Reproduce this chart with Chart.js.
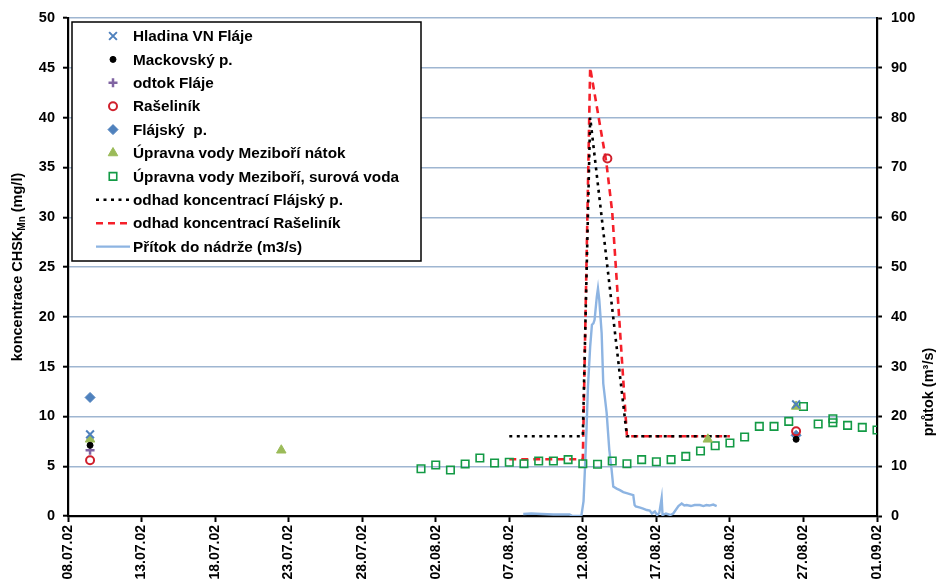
<!DOCTYPE html>
<html><head><meta charset="utf-8">
<script src="https://cdn.jsdelivr.net/npm/chart.js"></script>
<style>html,body{margin:0;padding:0;background:#fff}#wrap{width:940px;height:588px;position:relative}</style>
</head><body><div id="wrap"><canvas id="c" width="940" height="588"></canvas></div>
<script>
// x values = days since 08.07.02
const tickLabels = ['08.07.02','13.07.02','18.07.02','23.07.02','28.07.02','02.08.02','07.08.02','12.08.02','17.08.02','22.08.02','27.08.02','01.09.02'];

const hladinaX = [1.5, 49.5];            const hladinaY = [8.2, 11.2];
const mackovskyX = [1.5, 49.5];          const mackovskyY = [7.1, 7.7];
const odtokX = [1.5];                    const odtokY = [6.6];
const raselinikX = [1.5, 36.67, 49.5];   const raselinikY = [5.6, 35.9, 8.5];
const flajskyX = [1.5, 49.5];            const flajskyY = [11.9, 8.1];
const natokX = [1.5, 14.5, 43.5, 49.5];  const natokY = [7.7, 6.6, 7.7, 11.0];
const surovaX = [24,25,26,27,28,29,30,31,32,33,34,35,36,37,38,39,40,41,42,43,44,45,46,47,48,49,50,51,52,52,53,54,55];
const surovaY = [4.75,5.12,4.62,5.22,5.82,5.32,5.39,5.25,5.52,5.52,5.66,5.25,5.19,5.52,5.25,5.66,5.45,5.66,5.99,6.53,7.06,7.33,7.93,9.0,9.0,9.5,11.0,9.24,9.77,9.37,9.1,8.9,8.63];
const odhadFX = [30, 35, 35.5, 38, 45];  const odhadFY = [8, 8, 40, 8, 8];
const odhadRX = [30, 35, 35.5, 36.6, 37.0, 38, 45];
const odhadRY = [5.7, 5.7, 45, 35.5, 30.5, 8, 8];
const flowX = [30.95,31.5,32.2,33,34.1,34.3,34.9,35.05,35.15,35.25,35.35,35.5,35.62,35.72,35.8,35.95,36.03,36.12,36.28,36.39,36.62,36.8,36.96,37.07,37.3,37.52,37.75,37.98,38.2,38.43,38.52,38.6,38.9,39.1,39.35,39.55,39.7,39.9,40.05,40.2,40.36,40.42,40.65,40.95,41.15,41.5,41.72,41.9,42.06,42.35,42.6,42.96,43.2,43.4,43.6,43.87,44.1];
const flowY = [0.4,0.5,0.4,0.3,0.3,0.0,0.0,3,9.9,17.3,26,34,38.4,38.7,39.4,44,45.7,43.4,36.7,26.6,20.7,13.3,9.2,5.9,5.5,5.2,4.8,4.6,4.4,4.2,2.2,1.9,1.7,1.5,1.2,1.1,0.5,0.9,0.2,0.6,3.6,0.2,0.5,0.2,0.5,2.0,2.5,2.1,2.2,2.0,2.2,2.2,2.0,2.2,2.1,2.3,2.0];

const pts = (xs, ys) => xs.map((x, i) => ({x: x, y: ys[i]}));
const FONT = '"Liberation Sans", Arial, sans-serif';

const datasets = [
  {label:'Hladina VN Fláje', data:pts(hladinaX,hladinaY), pointStyle:'crossRot', pointRadius:5.5, borderColor:'#4f81bd', backgroundColor:'#4f81bd', pointBorderWidth:2, showLine:false, order:0},
  {label:'Mackovský p.', data:pts(mackovskyX,mackovskyY), pointStyle:'circle', pointRadius:3, borderColor:'#000', backgroundColor:'#000', pointBorderWidth:1, showLine:false, order:0},
  {label:'odtok Fláje', data:pts(odtokX,odtokY), pointStyle:'cross', pointRadius:4.5, borderColor:'#8064a2', backgroundColor:'#8064a2', pointBorderWidth:2.5, showLine:false, order:0},
  {label:'Rašeliník', data:pts(raselinikX,raselinikY), pointStyle:'circle', pointRadius:4, borderColor:'#d0202c', backgroundColor:'rgba(255,255,255,0)', pointBorderWidth:2, showLine:false, order:0},
  {label:'Flájský  p.', data:pts(flajskyX,flajskyY), pointStyle:'rectRot', pointRadius:5, borderColor:'#4f81bd', backgroundColor:'#4f81bd', pointBorderWidth:1, showLine:false, order:0},
  {label:'Úpravna vody Meziboří nátok', data:pts(natokX,natokY), pointStyle:'triangle', pointRadius:5.5, borderColor:'#9bbb59', backgroundColor:'#9bbb59', pointBorderWidth:1, showLine:false, order:0},
  {label:'Úpravna vody Meziboří, surová voda', data:pts(surovaX,surovaY), pointStyle:'rect', pointRadius:5.3, borderColor:'#139a45', backgroundColor:'rgba(255,255,255,0)', pointBorderWidth:1.6, showLine:false, order:0},
  {label:'odhad koncentrací Flájský p.', data:pts(odhadFX,odhadFY), showLine:true, pointRadius:0, borderColor:'#000', borderWidth:2.6, borderDash:[3,4.5], fill:false, order:1},
  {label:'odhad koncentrací Rašeliník', data:pts(odhadRX,odhadRY), showLine:true, pointRadius:0, borderColor:'#f5202a', borderWidth:2.6, borderDash:[7,5], fill:false, order:1},
  {label:'Přítok do nádrže (m3/s)', data:pts(flowX,flowY), showLine:true, pointRadius:0, borderColor:'#8db4e2', borderWidth:2.4, fill:false, yAxisID:'y2', order:2}
];

function drawMarker(ctx, ds, x, y) {
  const style = ds.pointStyle;
  ctx.save();
  ctx.strokeStyle = ds.borderColor; ctx.fillStyle = ds.backgroundColor;
  if (ds.showLine) {
    ctx.lineWidth = ds.borderWidth;
    ctx.setLineDash(ds.borderDash || []);
    ctx.beginPath(); ctx.moveTo(x - 17, y); ctx.lineTo(x + 17, y); ctx.stroke();
    ctx.restore(); return;
  }
  const r = ds.pointRadius; ctx.lineWidth = ds.pointBorderWidth;
  ctx.beginPath();
  if (style === 'crossRot') {
    const o = r * Math.SQRT1_2;
    ctx.moveTo(x-o,y-o); ctx.lineTo(x+o,y+o); ctx.moveTo(x-o,y+o); ctx.lineTo(x+o,y-o); ctx.stroke();
  } else if (style === 'cross') {
    ctx.moveTo(x-r,y); ctx.lineTo(x+r,y); ctx.moveTo(x,y-r); ctx.lineTo(x,y+r); ctx.stroke();
  } else if (style === 'circle') {
    ctx.arc(x,y,r,0,Math.PI*2); ctx.fill(); ctx.stroke();
  } else if (style === 'rectRot') {
    ctx.moveTo(x,y-r); ctx.lineTo(x+r,y); ctx.lineTo(x,y+r); ctx.lineTo(x-r,y); ctx.closePath(); ctx.fill(); ctx.stroke();
  } else if (style === 'triangle') {
    ctx.moveTo(x, y - r); ctx.lineTo(x + r*0.866, y + r*0.5); ctx.lineTo(x - r*0.866, y + r*0.5); ctx.closePath(); ctx.fill(); ctx.stroke();
  } else if (style === 'rect') {
    const s = r*Math.SQRT1_2;
    ctx.rect(x-s,y-s,2*s,2*s); ctx.fill(); ctx.stroke();
  }
  ctx.restore();
}

const legendPlugin = {
  id: 'boxLegend',
  afterDatasetsDraw(chart) {
    const ctx = chart.ctx;
    ctx.save();
    const L = 72, T = 22, W = 349, H = 239;
    ctx.fillStyle = '#fff'; ctx.fillRect(L, T, W, H);
    ctx.strokeStyle = '#000'; ctx.lineWidth = 1.5; ctx.strokeRect(L, T, W, H);
    ctx.font = 'bold 15.3px ' + FONT; ctx.textBaseline = 'middle'; ctx.textAlign = 'left';
    chart.data.datasets.forEach((ds, i) => {
      const y = 36 + i * 23.4;
      drawMarker(ctx, ds, 113, y);
      ctx.fillStyle = '#000';
      ctx.fillText(ds.label, 133, y + 1);
    });
    ctx.restore();
  }
};

const titlesPlugin = {
  id: 'axisTitles',
  afterDraw(chart) {
    const ctx = chart.ctx;
    ctx.save();
    ctx.translate(18, 267); ctx.rotate(-Math.PI/2);
    ctx.fillStyle = '#000'; ctx.textBaseline = 'middle';
    const big = 'bold 14.5px ' + FONT, small = 'bold 10px ' + FONT;
    const p1 = 'koncentrace CHSK', p2 = 'Mn', p3 = ' (mg/l)';
    ctx.font = big; const w1 = ctx.measureText(p1).width, w3 = ctx.measureText(p3).width;
    ctx.font = small; const w2 = ctx.measureText(p2).width;
    let x = -(w1 + w2 + w3) / 2;
    ctx.font = big; ctx.fillText(p1, x, 0); x += w1;
    ctx.font = small; ctx.fillText(p2, x, 4); x += w2;
    ctx.font = big; ctx.fillText(p3, x, 0);
    ctx.restore();
    ctx.save();
    ctx.translate(929, 392); ctx.rotate(-Math.PI/2);
    ctx.fillStyle = '#000'; ctx.textBaseline = 'middle'; ctx.textAlign = 'center';
    ctx.font = 'bold 14.5px ' + FONT;
    ctx.fillText('průtok (m³/s)', 0, 0);
    ctx.restore();
  }
};

new Chart(document.getElementById('c'), {
  type: 'scatter',
  data: { datasets: datasets },
  options: {
    responsive: false, animation: false,
    layout: { padding: { top: 18, left: 0, right: 0, bottom: 0 } },
    plugins: { legend: { display: false }, tooltip: { enabled: false } },
    scales: {
      x: {
        type: 'linear', min: 0, max: 55,
        afterFit: s => { s.height = 72; },
        afterBuildTicks: s => { s.ticks = tickLabels.map((t, i) => ({ value: i * 5 })); },
        ticks: { stepSize: 5, minRotation: 90, maxRotation: 90, color: '#000', padding: 3,
                 font: { family: FONT, size: 14, weight: 'bold' },
                 callback: (v) => tickLabels[Math.round(v / 5)] },
        grid: { display: true, drawOnChartArea: false, drawTicks: true, tickLength: 6, tickColor: '#000', tickWidth: 2 },
        border: { display: true, color: '#000', width: 2.2 }
      },
      y: {
        position: 'left', min: 0, max: 50,
        afterFit: s => { s.width = 68; },
        ticks: { stepSize: 5, color: '#000', padding: 8, font: { family: FONT, size: 14.5, weight: 'bold' } },
        grid: { color: '#9fb6d1', lineWidth: 1.4, drawTicks: true, tickLength: 5, tickColor: '#000', tickWidth: 2 },
        border: { display: true, color: '#000', width: 2.2 }
      },
      y2: {
        position: 'right', min: 0, max: 100,
        afterFit: s => { s.width = 63; },
        ticks: { stepSize: 10, color: '#000', padding: 9, font: { family: FONT, size: 14.5, weight: 'bold' } },
        grid: { drawOnChartArea: false, drawTicks: true, tickLength: 5, tickColor: '#000', tickWidth: 2 },
        border: { display: true, color: '#000', width: 2.2 }
      }
    }
  },
  plugins: [legendPlugin, titlesPlugin]
});
</script>
</body></html>
